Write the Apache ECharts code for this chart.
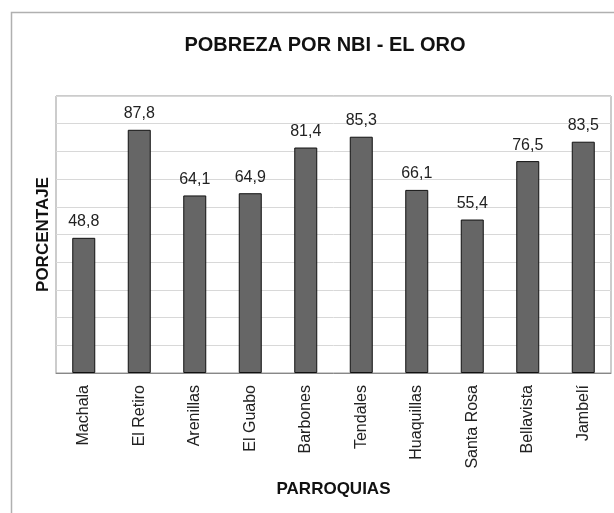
<!DOCTYPE html>
<html>
<head>
<meta charset="utf-8">
<title>POBREZA POR NBI - EL ORO</title>
<script src="https://cdn.jsdelivr.net/npm/echarts@6/dist/echarts.min.js"></script>
<style>
  html, body { margin: 0; padding: 0; background: #fff; }
  #chart { width: 614px; height: 513px; }
</style>
</head>
<body>
<div id="chart"></div>
<script>
// datos
const parroquias = ['Machala', 'El Retiro', 'Arenillas', 'El Guabo', 'Barbones', 'Tendales', 'Huaquillas', 'Santa Rosa', 'Bellavista', 'Jambelí']
const porcentaje = [48.8, 87.8, 64.1, 64.9, 81.4, 85.3, 66.1, 55.4, 76.5, 83.5]

const fuente = "'Liberation Sans', Arial, sans-serif"

const chart = echarts.init(document.getElementById('chart'))

const option = {
  animation: false,
  textStyle: { fontFamily: fuente },
  title: {
    text: 'POBREZA POR NBI - EL ORO',
    left: 320,
    textAlign: 'center',
    top: 30,
    textStyle: { fontSize: 20, fontWeight: 'bold', color: '#111', fontFamily: fuente }
  },
  // marco exterior del grafico
  graphic: [
    {
      type: 'rect',
      shape: { x: 11.5, y: 12.5, width: 700, height: 600 },
      style: { fill: 'none', stroke: '#b0b0b0', lineWidth: 1.5 },
      silent: true,
      z: -10
    }
  ],
  grid: {
    left: 56,
    right: 3,
    top: 96,
    bottom: 140,
    show: true,
    borderColor: '#999',
    borderWidth: 1
  },
  xAxis: {
    type: 'category',
    data: parroquias,
    name: 'PARROQUIAS',
    nameLocation: 'middle',
    nameGap: 108,
    nameTextStyle: { fontSize: 17, fontWeight: 'bold', color: '#111', fontFamily: fuente },
    axisLine: { lineStyle: { color: '#888' } },
    axisTick: { length: 6, lineStyle: { color: '#888' } },
    axisLabel: { rotate: 90, fontSize: 16, color: '#222', margin: 12, fontFamily: fuente }
  },
  yAxis: {
    type: 'value',
    min: 0,
    max: 100,
    interval: 10,
    name: 'PORCENTAJE',
    nameLocation: 'middle',
    nameGap: 4,
    nameTextStyle: { fontSize: 17, fontWeight: 'bold', color: '#111', fontFamily: fuente },
    axisLine: { show: false },
    axisTick: { show: false },
    axisLabel: { show: false },
    splitLine: { lineStyle: { color: '#d8d8d8' } }
  },
  series: [
    {
      type: 'bar',
      data: porcentaje,
      barWidth: 23,
      itemStyle: { color: '#666', borderColor: '#111', borderWidth: 1 },
      label: {
        show: true,
        position: 'top',
        distance: 8,
        fontSize: 16,
        color: '#222',
        fontFamily: fuente,
        formatter: (p) => p.value.toFixed(1).replace('.', ',')
      }
    }
  ]
}

chart.setOption(option)
</script>
</body>
</html>
